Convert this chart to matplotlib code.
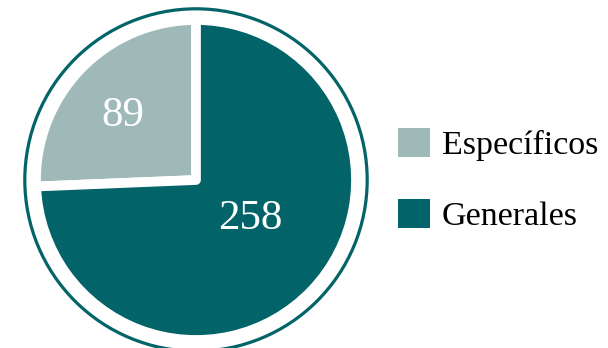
import matplotlib
matplotlib.use("Agg")
import matplotlib.pyplot as plt
from matplotlib.patches import Circle

categories = ["Específicos", "Generales"]
values = [89, 258]
colors = ["#9fb8b8", "#026468"]
ring_color = "#026468"

W, H, DPI = 608, 348, 100
fig = plt.figure(figsize=(W / DPI, H / DPI), dpi=DPI)
fig.patch.set_facecolor("white")

cx, cy, rpx = 196, 180, 160  # pixels from top-left
span = 1.1
ax = fig.add_axes([(cx - span * rpx) / W, (H - cy - span * rpx) / H,
                   2 * span * rpx / W, 2 * span * rpx / H])
wedges, _ = ax.pie(values, colors=colors, startangle=90, counterclock=True,
                   radius=1.0,
                   wedgeprops=dict(edgecolor="white", linewidth=7, joinstyle="round"))
ax.add_patch(Circle((0, 0), 1.07, fill=False, edgecolor=ring_color, linewidth=2.3))
ax.set_xlim(-span, span)
ax.set_ylim(-span, span)
ax.set_aspect("equal")
ax.axis("off")

serif = ["Liberation Serif", "DejaVu Serif"]
label_pos = [(-0.46, 0.40), (0.34, -0.24)]
for v, (x, y) in zip(values, label_pos):
    ax.text(x, y, str(v), color="white", fontsize=31, family=serif,
            ha="center", va="center")

leg = fig.legend(wedges, categories, loc="center left",
                 bbox_to_anchor=(398 / W, 1 - 180 / H),
                 frameon=False, prop=dict(family=serif, size=24.5),
                 handlelength=0.94, handleheight=0.94, labelspacing=1.1,
                 handletextpad=0.35, borderaxespad=0, borderpad=0)
for h in leg.legend_handles:
    h.set_edgecolor("none")

fig.savefig("out.png", dpi=DPI, facecolor="white")
